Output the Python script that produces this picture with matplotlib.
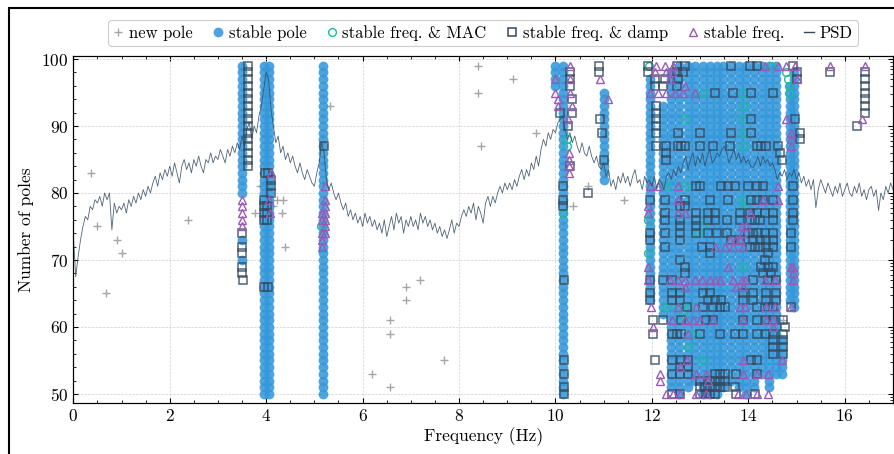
import numpy as np
import matplotlib
matplotlib.use("Agg")
import matplotlib.pyplot as plt
from matplotlib.lines import Line2D
from matplotlib.patches import Rectangle
from matplotlib.ticker import MultipleLocator, NullFormatter, LogLocator

plt.rcParams.update({
    "font.family": "serif",
    "font.serif": ["cmr10"],
    "mathtext.fontset": "cm",
    "axes.formatter.use_mathtext": True,
    "font.size": 12.5,
})

# PSD (dB), 0.05 Hz resolution from 0 to 17 Hz
psd_df = 0.05
psd_db = [
    74.0, 67.5, 70.5, 73.0, 75.0, 76.5, 76.0, 78.0, 77.5, 79.0, 78.5, 79.5, 78.0, 80.0, 79.0, 80.0, 74.5, 78.5, 77.0, 78.0,
    77.5, 78.5, 77.0, 79.0, 78.0, 79.5, 78.5, 80.0, 79.0, 80.5, 79.5, 81.0, 80.0, 81.5, 82.5, 81.0, 83.0, 82.0, 83.5, 82.5,
    84.0, 82.5, 84.5, 83.0, 81.5, 84.0, 85.0, 83.5, 84.5, 83.0, 85.0, 84.0, 85.5, 84.0, 83.0, 85.0, 84.5, 86.0, 84.5, 85.5,
    85.0, 86.5, 85.5, 84.5, 86.5, 85.5, 87.0, 86.0, 87.5, 86.5, 88.5, 87.0, 89.5, 90.5, 88.0, 90.0, 89.0, 91.5, 93.0, 95.5,
    98.0, 97.0, 92.5, 90.0, 87.5, 88.5, 86.0, 87.0, 85.0, 86.0, 84.5, 85.5, 84.0, 83.0, 84.5, 83.0, 82.0, 83.5, 82.5, 81.5,
    81.0, 83.0, 84.5, 87.5, 86.0, 82.0, 80.5, 81.5, 80.0, 79.0, 80.0, 78.5, 77.5, 78.5, 76.5, 77.5, 76.0, 77.0, 75.5, 76.5,
    75.0, 77.0, 75.5, 76.5, 75.0, 76.0, 74.5, 75.5, 74.0, 76.0, 73.5, 75.0, 76.5, 74.5, 77.0, 75.5, 76.5, 74.0, 76.0, 75.0,
    76.5, 75.0, 76.0, 74.5, 77.0, 75.5, 76.5, 75.0, 76.0, 74.5, 75.5, 74.0, 75.0, 73.5, 74.5, 73.2, 74.5, 76.0, 74.0, 75.5,
    75.0, 76.5, 77.5, 76.5, 78.0, 77.0, 78.5, 76.0, 78.0, 77.0, 75.5, 78.5, 79.5, 78.0, 79.5, 78.5, 80.0, 81.0, 80.0, 81.5,
    80.5, 81.5, 80.5, 82.0, 81.0, 82.5, 83.5, 82.0, 83.5, 82.5, 84.5, 83.5, 85.5, 84.0, 86.5, 88.0, 87.0, 89.0, 88.0, 89.5,
    89.0, 90.5, 91.0, 91.5, 89.5, 88.0, 89.0, 87.5, 88.5, 87.0, 86.0, 87.5, 86.0, 85.5, 87.0, 85.5, 84.5, 85.5, 84.0, 83.5,
    84.5, 82.5, 83.5, 81.0, 82.0, 80.5, 82.5, 81.5, 83.0, 81.5, 82.5, 81.0, 82.5, 83.5, 81.5, 82.0, 80.5, 82.5, 81.5, 82.0,
    81.0, 82.5, 80.5, 82.0, 81.5, 80.5, 82.5, 83.0, 82.0, 83.5, 82.5, 84.0, 83.0, 84.5, 85.5, 83.5, 85.0, 86.0, 84.0, 85.5,
    84.5, 86.0, 84.0, 85.5, 86.5, 84.5, 85.0, 86.0, 85.5, 86.5, 87.0, 86.0, 84.5, 85.5, 86.5, 85.0, 86.0, 84.5, 85.5, 84.5,
    85.0, 84.0, 83.8, 84.5, 85.5, 84.0, 85.5, 84.5, 85.0, 84.0, 84.5, 83.5, 82.0, 83.0, 82.5, 83.5, 82.0, 83.0, 82.5, 83.5,
    82.0, 83.0, 81.5, 82.5, 81.0, 82.0, 80.5, 82.0, 77.8, 80.5, 82.0, 81.0, 80.0, 81.5, 80.5, 79.5, 81.0, 80.0, 81.5, 79.5,
    80.5, 81.5, 80.0, 79.5, 81.0, 80.0, 81.5, 79.5, 80.5, 79.0, 80.5, 81.0, 79.5, 80.5, 77.4, 80.0, 79.0, 81.0, 80.0, 81.5,
    80.5,
]

# new poles (freq, order)
new_poles = [
    (0.37, 83), (0.50, 75), (0.68, 65), (0.91, 73), (1.00, 71), (2.38, 76),
    (3.77, 77), (3.88, 81), (4.15, 78), (4.22, 79), (4.35, 79), (4.33, 77),
    (4.39, 72), (5.33, 93), (6.20, 53), (6.57, 51), (6.57, 59), (6.57, 61),
    (6.90, 64), (6.90, 66), (7.19, 67), (7.69, 55), (8.39, 99), (8.39, 95),
    (8.46, 87), (9.12, 97), (9.60, 89), (10.36, 78), (10.67, 81), (11.42, 79),
    (14.72, 61),
]

# stable poles: vertical tracks (freq, lowest order, highest order)
stable_runs = [
    (3.50, 80, 99), (3.50, 73, 73), (3.50, 70, 70),
    (3.96, 50, 99), (4.06, 50, 99), (5.17, 50, 99),
    (10.00, 96, 99), (10.16, 50, 99), (11.00, 82, 95),
    (11.96, 64, 97), (12.23, 62, 93), (12.40, 51, 98), (12.57, 50, 99),
    (12.74, 51, 99), (12.90, 52, 99), (13.05, 50, 99), (13.20, 50, 99),
    (13.34, 50, 99), (13.48, 51, 99), (13.64, 52, 99), (13.80, 51, 99),
    (13.95, 50, 99), (14.12, 51, 99), (14.28, 53, 99), (14.43, 51, 99),
    (14.58, 53, 99), (14.70, 53, 58), (14.86, 64, 96), (14.95, 63, 98),
]

# stable freq. & MAC
mac_runs = [(5.13, 75, 75), (10.23, 87, 88), (10.16, 77, 77)]
mac_rows = [
    (99, [11.94, 14.48]), (98, [14.79]), (97, [14.82]), (96, [14.84]),
    (95, [13.06, 13.88, 14.84]), (93, [13.88]), (91, [12.68, 13.88]),
    (89, [13.88]), (87, [13.88]), (81, [12.30, 12.68]), (79, [13.88]),
    (78, [13.88]), (76, [11.92]), (75, [13.06]), (74, [12.96]), (71, [11.92]),
    (69, [13.88]), (63, [12.30, 12.54, 12.75]), (62, [12.65]), (59, [12.89]),
    (57, [12.75]), (55, [13.03]),
]

# stable freq. & damp
damp_runs = [
    (3.50, 74, 74), (3.50, 71, 72), (3.50, 68, 69), (3.52, 67, 67), (3.63, 84, 99),
    (3.96, 76, 79), (4.01, 76, 78), (3.97, 83, 83), (4.04, 83, 83), (4.10, 80, 82),
    (3.96, 66, 66), (4.04, 66, 66), (5.20, 87, 87),
    (10.30, 96, 98), (10.35, 94, 94), (10.35, 92, 92), (10.26, 90, 90),
    (10.30, 84, 84), (10.16, 81, 81), (10.16, 78, 79), (10.17, 67, 67),
    (10.17, 55, 55), (10.17, 53, 53), (10.17, 50, 51), (10.09, 92, 92),
    (10.90, 98, 99), (10.93, 91, 91), (10.97, 89, 89), (11.00, 85, 85),
    (10.68, 80, 80), (15.69, 98, 98), (16.41, 92, 98), (16.25, 90, 90),
]
damp_rows = [
    (99, [11.92, 12.51, 12.68, 13.65, 14.03, 14.17, 14.93]),
    (98, [11.92, 12.51, 12.65, 15.00]),
    (97, [12.06, 12.27, 12.54, 15.00]),
    (96, [12.06, 12.23, 12.51]),
    (95, [13.30, 13.68, 14.06, 14.51]),
    (93, [12.09]), (92, [12.09]), (91, [12.09, 14.06, 14.96]), (90, [12.09]),
    (89, [12.09, 12.54, 12.99, 13.65, 14.06, 15.07]),
    (88, [15.07]),
    (87, [12.09, 12.30, 12.54, 12.61, 12.68, 12.99, 13.27, 13.61, 14.17, 14.27, 14.37, 14.62]),
    (86, [12.30, 14.65]), (85, [12.30, 14.69]),
    (81, [12.92, 12.99, 13.44, 13.58, 13.72, 13.99, 14.17, 14.31, 14.93]),
    (79, [11.96, 12.27, 12.68, 13.20, 13.58, 14.06, 14.17, 14.31, 14.51, 14.93]),
    (78, [12.58, 12.68]),
    (77, [12.27, 12.92, 13.17, 13.30, 13.82, 14.03, 14.17, 14.34, 14.51, 14.93]),
    (76, [12.27, 12.58, 12.92, 13.17, 13.30, 13.55, 13.82, 14.03, 14.13, 14.24, 14.51, 14.93]),
    (75, [12.58, 12.92]),
    (74, [11.96, 12.27, 12.58, 12.92, 13.17, 13.34, 13.55, 13.99, 14.10, 14.20, 14.34, 14.51, 14.89]),
    (73, [11.96, 12.58, 13.65, 13.82, 14.10, 14.24, 14.37, 14.51]),
    (72, [12.27, 13.03, 13.20, 14.03, 14.13, 14.24, 14.37, 14.51, 14.89]),
    (71, [13.20, 14.41]), (70, [12.58, 14.34]),
    (69, [12.68, 14.27, 14.41, 14.51]), (68, [12.68, 14.31, 14.48]),
    (67, [11.96, 12.23, 12.41, 14.10, 14.41, 14.58]),
    (65, [11.96, 12.41, 12.58, 13.06, 13.20, 13.89, 14.10, 14.37, 14.58]),
    (64, [11.96, 12.41, 12.58, 13.17, 13.30, 13.44, 13.89, 14.10, 14.37, 14.58]),
    (63, [12.72, 13.06, 13.27, 13.41, 13.51, 14.17, 14.41, 14.51, 14.89]),
    (61, [12.03, 12.23, 12.61, 13.13, 13.27, 13.89, 14.17, 14.37, 14.51, 14.72]),
    (60, [14.75]),
    (59, [12.03, 12.41, 12.51, 12.61, 12.99, 13.41, 13.72, 13.89, 14.17, 14.37, 14.51, 14.72]),
    (58, [14.51, 14.72]), (57, [14.51, 14.72]), (56, [14.51, 14.72]),
    (55, [12.06, 12.41, 12.61, 12.75, 14.06, 14.17]),
    (54, [12.58, 12.75]),
    (53, [12.41, 12.58, 12.75, 13.30, 13.41, 13.51, 13.75, 14.17]),
    (52, [12.99, 13.20, 13.30, 13.41, 13.51]),
    (51, [12.99, 13.10, 13.20, 13.30, 13.41, 13.51, 13.72]),
    (50, [12.41, 12.58, 12.99, 13.13, 13.20, 13.30, 13.75, 14.13]),
]

# stable freq.
freq_runs = [
    (3.50, 75, 79), (4.10, 83, 83), (4.05, 79, 79), (4.08, 77, 77),
    (5.22, 74, 79), (5.22, 81, 81), (5.16, 72, 74), (5.16, 76, 77),
    (9.99, 97, 97), (9.99, 95, 95), (10.06, 93, 94), (10.30, 99, 99),
    (10.30, 97, 97), (10.30, 95, 95), (10.35, 93, 93), (10.26, 91, 91),
    (10.28, 83, 86), (10.92, 97, 97), (11.09, 94, 94),
    (15.69, 99, 99), (16.41, 99, 99), (16.35, 91, 91),
]
freq_rows = [
    (99, [12.09, 12.27, 12.44, 14.34, 14.62, 14.79, 14.96]),
    (98, [12.06, 12.30, 12.41]), (97, [12.37, 15.00]), (96, [12.68]),
    (95, [11.96, 12.13, 12.30, 12.47, 12.65, 12.89]),
    (91, [14.79]), (89, [14.89]), (88, [14.89]), (87, [14.89]),
    (81, [11.96, 12.13, 12.54, 14.62]), (79, [12.54, 14.31, 14.62]),
    (78, [11.92]), (77, [11.92, 12.54, 12.68, 14.03]),
    (75, [13.86, 13.96]), (74, [13.86]), (73, [13.61, 13.75, 13.82]),
    (72, [13.30, 13.51, 13.68, 13.89]),
    (69, [11.92, 13.58, 14.89, 14.93]), (68, [14.93]),
    (67, [11.92, 12.37, 12.54, 12.68, 12.89, 13.03, 13.20, 13.30, 13.41, 13.68, 13.86, 13.93, 14.34, 14.55, 14.93]),
    (66, [12.68, 13.75, 13.89]),
    (63, [11.99, 12.54, 12.92, 13.82, 13.93, 14.37, 14.55, 14.89]),
    (61, [12.41, 12.68, 12.85, 12.99, 13.27, 13.89, 14.37, 14.51]),
    (60, [12.03, 14.51]), (59, [12.75]), (55, [12.72, 13.89, 14.69]),
    (54, [12.58]), (53, [12.16, 12.92, 13.13, 13.89, 14.17, 14.41]),
    (52, [12.16, 13.17]),
    (50, [12.30, 12.44, 12.58, 12.92, 13.13, 13.79, 13.96, 14.17, 14.41]),
]

c_new = "#a6a6a6"
c_stable = "#3498db"
c_mac = "#1abc9c"
c_damp = "#34495e"
c_freq = "#9b59b6"
c_psd = "#34495e"


def expand(runs=(), rows=()):
    f, o = [], []
    for freq, lo, hi in runs:
        for order in range(lo, hi + 1):
            f.append(freq)
            o.append(order)
    for order, freqs in rows:
        f.extend(freqs)
        o.extend([order] * len(freqs))
    return f, o


fig = plt.figure(figsize=(8.95, 4.54), dpi=100)
ax = fig.add_axes([73.3 / 895, 1 - 403.3 / 454, (893 - 73.3) / 895, (403.3 - 55.7) / 454])

# figure frame (only left and top edges fall inside the picture)
fig.patches.append(Rectangle((8.5 / 895, -1), 2, 1 + 1 - 7.5 / 454, transform=fig.transFigure,
                             fill=False, edgecolor="black", linewidth=1.5))

nf, no = zip(*new_poles)
ax.plot(nf, no, ls="none", marker="+", ms=6, mew=1, color=c_new, zorder=3)

f, o = expand(stable_runs)
ax.plot(f, o, ls="none", marker="o", ms=6.6, mec=c_stable, mew=0.4, mfc=c_stable, alpha=0.88, zorder=3)

f, o = expand(mac_runs, mac_rows)
ax.plot(f, o, ls="none", marker="o", ms=5.6, mfc="none", mec=c_mac, mew=1, zorder=4)

f, o = expand(damp_runs, damp_rows)
ax.plot(f, o, ls="none", marker="s", ms=5.6, mfc="none", mec=c_damp, mew=1.1, alpha=0.85, zorder=4)

f, o = expand(freq_runs, freq_rows)
ax.plot(f, o, ls="none", marker="^", ms=6, mfc="none", mec=c_freq, mew=1, zorder=4)

ax.set_xlim(0, 17)
ax.set_ylim(48.6, 100.5)
ax.xaxis.set_major_locator(MultipleLocator(2))
ax.xaxis.set_minor_locator(MultipleLocator(0.5))
ax.yaxis.set_major_locator(MultipleLocator(10))
ax.yaxis.set_minor_locator(MultipleLocator(2))
ax.tick_params(which="both", direction="in", top=True, right=False)
ax.tick_params(which="major", length=3.5, width=0.8)
ax.tick_params(which="minor", length=2, width=0.6)
ax.grid(True, which="major", ls="--", lw=0.5, color="#d0d0d0")
ax.set_axisbelow(True)
ax.set_xlabel("Frequency (Hz)", labelpad=2)
ax.set_ylabel("Number of poles", labelpad=5)

# PSD on a log twin axis
ax2 = ax.twinx()
psd_freq = np.arange(len(psd_db)) * psd_df
psd = 10 ** (np.array(psd_db) / 10)
ax2.plot(psd_freq, psd, color=c_psd, lw=0.6, alpha=0.85)
ax2.set_yscale("log")
ax2.set_ylim(10 ** (48.6 / 10), 10 ** (100.5 / 10))
ax2.yaxis.set_major_locator(LogLocator(base=10))
ax2.yaxis.set_minor_locator(LogLocator(base=10, subs=np.arange(2, 10)))
ax2.yaxis.set_major_formatter(NullFormatter())
ax2.yaxis.set_minor_formatter(NullFormatter())
ax2.tick_params(which="both", direction="in")
ax2.tick_params(which="major", length=3.5, width=0.8)
ax2.tick_params(which="minor", length=2, width=0.6)

handles = [
    Line2D([], [], ls="none", marker="+", ms=6, mew=1, color=c_new, label="new pole"),
    Line2D([], [], ls="none", marker="o", ms=6.6, mec=c_stable, mew=0.4, mfc=c_stable, alpha=0.88, label="stable pole"),
    Line2D([], [], ls="none", marker="o", ms=5.6, mfc="none", mec=c_mac, mew=1, label="stable freq. & MAC"),
    Line2D([], [], ls="none", marker="s", ms=5.6, mfc="none", mec=c_damp, mew=1.1, label="stable freq. & damp"),
    Line2D([], [], ls="none", marker="^", ms=6, mfc="none", mec=c_freq, mew=1, label="stable freq."),
    Line2D([], [], color=c_psd, lw=1, label="PSD"),
]
leg = ax2.legend(handles=handles, loc="lower center", bbox_to_anchor=(0.5, 1.0), ncol=6,
                 fontsize=12, frameon=True, fancybox=True, framealpha=1, edgecolor="#cccccc",
                 handlelength=0.6, handletextpad=0.35, columnspacing=1.2, borderaxespad=0.6,
                 borderpad=0.3)
leg.get_frame().set_linewidth(0.8)

fig.savefig("out.png", dpi=100)
